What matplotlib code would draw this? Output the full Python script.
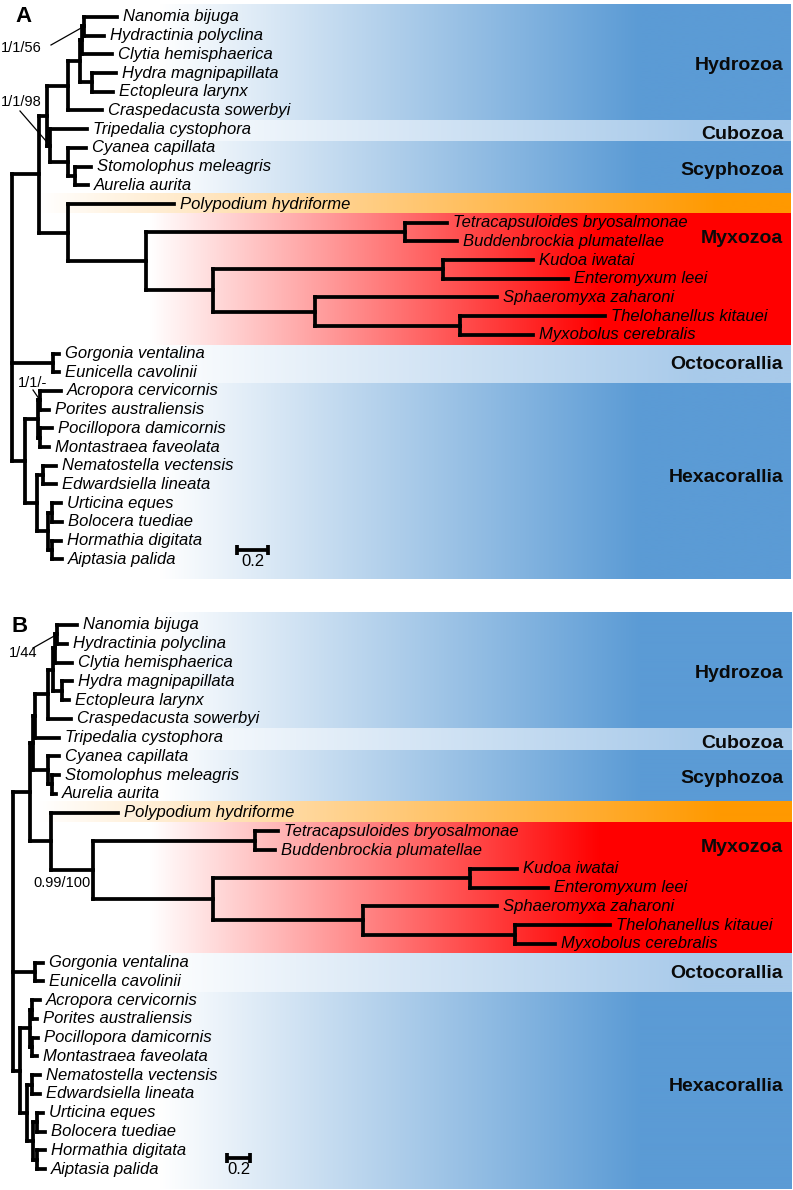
import matplotlib
matplotlib.use("Agg")
import matplotlib.pyplot as plt
import numpy as np
from matplotlib.collections import LineCollection
from matplotlib.colors import to_rgb

plt.rcParams['font.family'] = ['Liberation Sans', 'DejaVu Sans']

# ---------------- data ----------------
# Trees in Newick form; the number after ':' is the node depth
# (distance from the root, substitutions per site).
TREE_A = (
    "(((((((Nanomia bijuga:0.677,Hydractinia polyclina:0.594):0.465,"
    "Clytia hemisphaerica:0.645):0.452,"
    "(Hydra magnipapillata:0.671,Ectopleura larynx:0.652):0.516):0.439,"
    "Craspedacusta sowerbyi:0.581):0.361,"
    "(Tripedalia cystophora:0.484,(Cyanea capillata:0.477,"
    "(Stomolophus meleagris:0.510,Aurelia aurita:0.490):0.406):0.361):0.245):0.226,"
    "(Polypodium hydriforme:1.045,"
    "((Tetracapsuloides bryosalmonae:2.806,Buddenbrockia plumatellae:2.871):2.535,"
    "((Kudoa iwatai:3.361,Enteromyxum leei:3.587):2.781,"
    "(Sphaeromyxa zaharoni:3.129,(Thelohanellus kitauei:3.826,"
    "Myxobolus cerebralis:3.361):2.890):1.955):1.297):0.865):0.361):0.174,"
    "(Gorgonia ventalina:0.303,Eunicella cavolinii:0.303):0.265,"
    "(((Acropora cervicornis:0.316,Porites australiensis:0.239):0.181,"
    "(Pocillopora damicornis:0.258,Montastraea faveolata:0.239):0.181):0.168,"
    "((Nematostella vectensis:0.284,Edwardsiella lineata:0.284):0.200,"
    "((Urticina eques:0.316,Bolocera tuediae:0.323):0.258,"
    "(Hormathia digitata:0.316,Aiptasia palida:0.323):0.258):0.232):0.161):0.084);"
)

TREE_B = (
    "((((((((Nanomia bijuga:0.557,Hydractinia polyclina:0.470):0.383,"
    "Clytia hemisphaerica:0.513):0.365,"
    "(Hydra magnipapillata:0.513,Ectopleura larynx:0.487):0.426):0.348,"
    "Craspedacusta sowerbyi:0.504):0.304,Tripedalia cystophora:0.400):0.191,"
    "(Cyanea capillata:0.400,(Stomolophus meleagris:0.400,"
    "Aurelia aurita:0.374):0.339):0.304):0.174,"
    "(Polypodium hydriforme:0.913,"
    "((Tetracapsuloides bryosalmonae:2.304,Buddenbrockia plumatellae:2.278):2.104,"
    "((Kudoa iwatai:4.383,Enteromyxum leei:4.652):3.974,"
    "(Sphaeromyxa zaharoni:4.209,(Thelohanellus kitauei:5.191,"
    "Myxobolus cerebralis:4.713):4.365):3.043):1.739):0.696):0.330):0.148,"
    "(Gorgonia ventalina:0.261,Eunicella cavolinii:0.261):0.191,"
    "(((Acropora cervicornis:0.235,Porites australiensis:0.209):0.165,"
    "(Pocillopora damicornis:0.217,Montastraea faveolata:0.209):0.165):0.148,"
    "((Nematostella vectensis:0.235,Edwardsiella lineata:0.235):0.165,"
    "((Urticina eques:0.261,Bolocera tuediae:0.278):0.209,"
    "(Hormathia digitata:0.278,Aiptasia palida:0.278):0.209):0.174):0.122):0.061);"
)

GROUPS = ["Hydrozoa", "Cubozoa", "Scyphozoa", "", "Myxozoa", "Octocorallia", "Hexacorallia"]
GROUP_EDGES = [-0.64, 5.51, 6.68, 9.41, 10.53, 17.54, 19.57, 30.05]   # in taxon rows
GROUP_LABEL_ROWS = [2.6, 6.3, 8.2, None, 11.85, 18.6, 24.6]
GROUP_COLORS = ["#5B9BD5", "#A8CAEA", "#5B9BD5", "#FF9900", "#FF0000", "#A8CAEA", "#5B9BD5"]
GRAD_START_PX = [160, 150, 160, 40, 150, 150, 160]
GRAD_END_PX = [640, 700, 640, 720, 600, 700, 640]

# support values: (text, anchor px (x, y in panel), ha, leader start px or None, node leaves)
SUPPORT_A = [
    ("1/1/56", (1, 48), "left", (51, 45), ("Nanomia bijuga", "Hydractinia polyclina")),
    ("1/1/98", (1, 102), "left", (20, 111), ("Tripedalia cystophora", "Aurelia aurita")),
    ("1/1/-", (18, 383), "left", (33, 390), ("Acropora cervicornis", "Porites australiensis")),
]
SUPPORT_B = [
    ("1/44", (9, 58), "left", (33, 53), ("Nanomia bijuga", "Hydractinia polyclina")),
    ("0.99/100", (91, 288), "right", None, None),
]
SCALE_LEN = 0.2

# panel geometry: root x px, px per unit, first row y px (panel), row step px,
# scale bar left px, scale bar y px
PANELS = [
    dict(tree=TREE_A, letter="A", support=SUPPORT_A, root_px=12, ppu=155,
         row0=17, step=18.7, bar_px=237, bar_py=550, letter_xy=(23, 17)),
    dict(tree=TREE_B, letter="B", support=SUPPORT_B, root_px=13, ppu=115,
         row0=30, step=18.76, bar_px=227, bar_py=563, letter_xy=(20, 32)),
]

W, H = 793, 1190
PH = 595
LW = 2.7


def parse_newick(s):
    pos = 0

    def node():
        nonlocal pos
        children = []
        if s[pos] == '(':
            pos += 1
            children.append(node())
            while s[pos] == ',':
                pos += 1
                children.append(node())
            pos += 1  # ')'
        start = pos
        while s[pos] not in ':,);':
            pos += 1
        name = s[start:pos].strip()
        depth = 0.0
        if s[pos] == ':':
            pos += 1
            start = pos
            while s[pos] not in ',);':
                pos += 1
            depth = float(s[start:pos])
        return {'name': name, 'children': children, 'x': depth}

    return node()


def layout(n, counter):
    if not n['children']:
        n['y'] = counter[0]
        counter[0] += 1
    else:
        for c in n['children']:
            layout(c, counter)
        n['y'] = 0.5 * (n['children'][0]['y'] + n['children'][-1]['y'])


def leaves(n):
    if not n['children']:
        return [n['name']]
    out = []
    for c in n['children']:
        out += leaves(c)
    return out


def mrca(n, names):
    for c in n['children']:
        if all(nm in leaves(c) for nm in names):
            return mrca(c, names)
    return n


def segments(n, segs, tips):
    for c in n['children']:
        segs.append([(n['x'], c['y']), (c['x'], c['y'])])
        segments(c, segs, tips)
    if n['children']:
        segs.append([(n['x'], n['children'][0]['y']), (n['x'], n['children'][-1]['y'])])
    else:
        tips.append(n)


fig = plt.figure(figsize=(W / 100, H / 100), dpi=100)

for i, P in enumerate(PANELS):
    ax = fig.add_axes([0, 1 - (i + 1) * 0.5, 1, 0.5])
    ax.set_axis_off()
    X = lambda px, P=P: (px - P['root_px']) / P['ppu']
    Y = lambda py, P=P: (py - P['row0']) / P['step']
    ax.set_xlim(X(0), X(W))
    ax.set_ylim(Y(PH), Y(0))

    # coloured clade bands
    cols = np.arange(0, 792)
    for g in range(len(GROUPS)):
        rgb = np.array(to_rgb(GROUP_COLORS[g]))
        f = np.clip((cols - GRAD_START_PX[g]) / (GRAD_END_PX[g] - GRAD_START_PX[g]), 0, 1)
        img = (1 - f)[:, None] * np.ones(3) + f[:, None] * rgb
        img = img[None, :, :]
        ax.imshow(img, extent=[X(0), X(791), GROUP_EDGES[g + 1], GROUP_EDGES[g]],
                  aspect='auto', interpolation='bilinear', zorder=0)
        if GROUP_LABEL_ROWS[g] is not None:
            ax.text(X(783), GROUP_LABEL_ROWS[g], GROUPS[g], ha='right', va='center',
                    fontsize=14, fontweight='bold', color='#0a0a0a', zorder=4)

    # tree
    root = parse_newick(P['tree'])
    layout(root, [0])
    segs, tips = [], []
    segments(root, segs, tips)
    lc = LineCollection(segs, colors='black', linewidths=LW, capstyle='projecting', zorder=3)
    ax.add_collection(lc)
    for t in tips:
        ax.annotate(t['name'], (t['x'], t['y']), xytext=(4.5, 0), textcoords='offset points',
                    ha='left', va='center', fontsize=12, fontstyle='italic', zorder=4)

    # support values
    for txt, (tx, ty), ha, lead, names in P['support']:
        ax.text(X(tx), Y(ty), txt, ha=ha, va='center', fontsize=10.5, zorder=4)
        if lead is not None:
            nd = mrca(root, names)
            ax.plot([X(lead[0]), nd['x']], [Y(lead[1]), nd['y']], color='black', lw=0.9, zorder=4)

    # scale bar
    bx, by = X(P['bar_px']), Y(P['bar_py'])
    ax.plot([bx, bx + SCALE_LEN], [by, by], color='black', lw=LW, solid_capstyle='butt', zorder=4)
    for xx in (bx, bx + SCALE_LEN):
        ax.plot([xx, xx], [by - 0.25, by + 0.25], color='black', lw=LW, solid_capstyle='butt', zorder=4)
    ax.text(bx + SCALE_LEN / 2, by + 0.6, "0.2", ha='center', va='center', fontsize=12, zorder=4)

    # panel letter
    lx, ly = P['letter_xy']
    ax.text(X(lx), Y(ly), P['letter'], ha='center', va='center', fontsize=16,
            fontweight='bold', zorder=4)

fig.savefig("out.png", dpi=100)
